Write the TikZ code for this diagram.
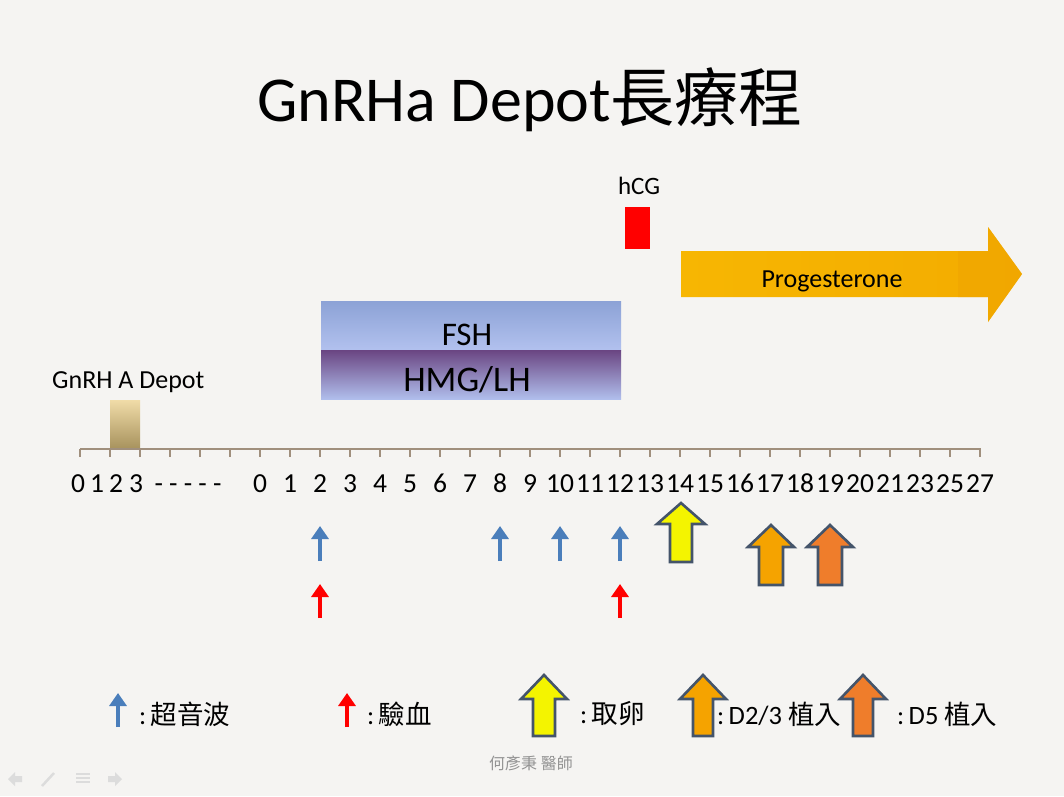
\documentclass[tikz,border=0pt]{standalone}
\usepackage{fontspec}
\setmainfont{Carlito}
\newfontfamily\cjk{Noto Sans CJK TC}
\usetikzlibrary{arrows.meta}
\definecolor{bg}{HTML}{F5F4F2}
\definecolor{axisc}{HTML}{A08F7D}
\definecolor{usblue}{HTML}{4A7EBB}
\definecolor{bloodred}{HTML}{FF0000}
\definecolor{outl}{HTML}{44546A}
\definecolor{ylw}{HTML}{F4F400}
\definecolor{org}{HTML}{F5A300}
\definecolor{org2}{HTML}{EF7D2B}
\definecolor{navc}{HTML}{DCDCDC}
\definecolor{depottop}{HTML}{F0DCA8}
\definecolor{depotbot}{HTML}{A8935E}
\definecolor{fshtop}{HTML}{8CA2D6}
\definecolor{fshbot}{HTML}{B2C1EE}
\definecolor{hmgtop}{HTML}{6A4582}
\definecolor{hmgbot}{HTML}{B0BEEC}
\definecolor{progl}{HTML}{F7B602}
\definecolor{progr}{HTML}{F3AC00}
\definecolor{progd}{HTML}{F0A500}
\newcommand\blockup[7]{%
  \draw[blockline, fill=#1] (#2,#3) -- (#2+#6,#4) -- (#2+#7,#4) -- (#2+#7,#5)
    -- (#2-#7,#5) -- (#2-#7,#4) -- (#2-#6,#4) -- cycle;}
\tikzset{
  axisline/.style={draw=axisc, line width=1.6pt},
  tickline/.style={draw=axisc, line width=1.2pt},
  ticklab/.style={font=\fontsize{27.5}{27.5}\selectfont, anchor=base, inner sep=0pt},
  blockline/.style={draw=outl, line width=2.6pt, line join=miter},
  usarrow/.style={draw=usblue, line width=4.4pt, -{Triangle[length=13pt,width=17pt]}},
  bloodarrow/.style={draw=bloodred, line width=4.4pt, -{Triangle[length=13pt,width=17pt]}},
  legtext/.style={font=\fontsize{26.5}{26.5}\selectfont, anchor=west, inner sep=0pt},
}
\begin{document}
\begin{tikzpicture}[x=1pt,y=-1pt]
\useasboundingbox (0,0) rectangle (1064,796);
\fill[bg] (0,0) rectangle (1064,796);

% title
\node[anchor=base, inner sep=0pt, font=\fontsize{64}{64}\selectfont] (title) at (530,121)
  {GnRHa Depot{\cjk 長療程}};

% GnRH A Depot
\node[anchor=base west, inner sep=0pt, font=\fontsize{26}{26}\selectfont] (depotlab) at (52,388) {GnRH A Depot};
\shade[top color=depottop, bottom color=depotbot] (110,400) rectangle (140,448);

% FSH / HMG box
\shade[top color=fshtop, bottom color=fshbot] (321,301) rectangle (621,350);
\shade[top color=hmgtop, bottom color=hmgbot] (321,350) rectangle (621,399);
\node[anchor=base, inner sep=0pt, font=\fontsize{33}{33}\selectfont] (fsh) at (467,345) {FSH};
\node[anchor=base, inner sep=0pt, font=\fontsize{36}{36}\selectfont] (hmg) at (467,391) {HMG/LH};

% hCG
\fill[bloodred] (625,207) rectangle (650,249);
\node[anchor=base, inner sep=0pt, font=\fontsize{25}{25}\selectfont] (hcg) at (639,194) {hCG};

% Progesterone arrow
\shade[left color=progl, right color=progr]
  (681,251) -- (988,251) -- (988,227) -- (1022,274) -- (988,322) -- (988,297) -- (681,297) -- cycle;
\fill[progd, opacity=0.6]
  (958,251) -- (988,251) -- (988,227) -- (1022,274) -- (988,322) -- (988,297) -- (958,297) -- cycle;
\node[anchor=base, inner sep=0pt, font=\fontsize{26}{26}\selectfont] (prog) at (832,287) {Progesterone};

% axis
\draw[axisline] (80,449) -- (981,449);
\foreach \i in {0,...,30} \draw[tickline] (80+30*\i,449) -- ++(0,8);
\foreach \x/\t in {78/0,97/1,116/2,136/3,188/{- - - - -},260/0,290/1,320/2,350/3,380/4,410/5,440/6,470/7,500/8,530/9,560/10,590/11,620/12,650/13,680/14,710/15,740/16,770/17,800/18,830/19,860/20,890/21,920/23,950/25,980/27}
  \node[ticklab] at (\x,492) {\t};

% ultrasound / blood arrows
\foreach \x in {320,500,560,620} \draw[usarrow] (\x,561) -- (\x,526);
\foreach \x in {320,620} \draw[bloodarrow] (\x,618) -- (\x,584);

% block arrows on timeline
\blockup{ylw}{681}{503}{524}{562}{24}{11}
\blockup{org}{771}{525}{547}{585}{23}{12}
\blockup{org2}{830}{525}{547}{585}{23}{12}

% legend
\draw[usarrow] (118,727) -- (118,693);
\node[legtext] (l1) at (139,714) {:\,{\cjk 超音波}};
\draw[bloodarrow] (347,727) -- (347,693);
\node[legtext] (l2) at (367,714) {:\,{\cjk 驗血}};
\blockup{ylw}{544}{675}{699}{736}{23}{11}
\node[legtext] (l3) at (580,714) {:\,{\cjk 取卵}};
\blockup{org}{703}{675}{699}{736}{23}{10}
\node[legtext] (l4) at (717,714) {:\,D2/3 {\cjk 植入}};
\blockup{org2}{863}{675}{699}{736}{23}{10}
\node[legtext] (l5) at (897,714) {:\,D5 {\cjk 植入}};

% footer
\node[text=gray!85, inner sep=0pt, font=\cjk\fontsize{16}{16}\selectfont] (footer) at (531,763) {何彥秉 醫師};

% navigation icons
\fill[navc] (8,779) -- (15,772) -- (15,776) -- (22,776) -- (22,782) -- (15,782) -- (15,786) -- cycle;
\draw[navc, line width=2.5pt] (42,786) -- (54,773);
\draw[navc, line width=1.8pt] (76,774) -- (90,774) (76,778) -- (90,778) (76,782) -- (90,782);
\fill[navc] (122,779) -- (115,772) -- (115,776) -- (108,776) -- (108,782) -- (115,782) -- (115,786) -- cycle;
\end{tikzpicture}
\end{document}
